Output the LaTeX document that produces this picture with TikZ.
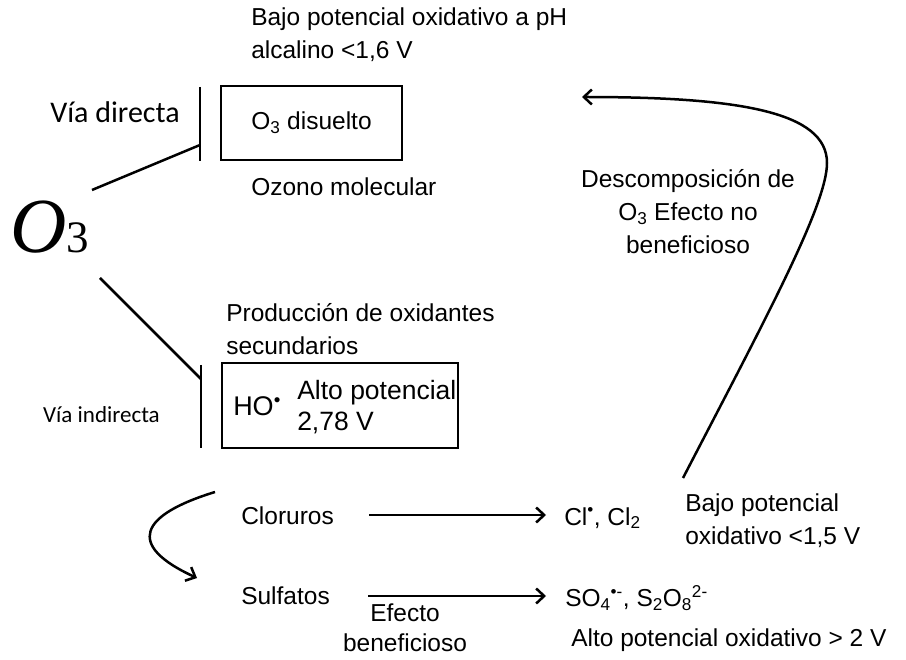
\documentclass[tikz,border=0pt]{standalone}
\usepackage{fontspec}
\setmainfont{Liberation Sans}
\newfontfamily\calfont{Carlito}
\newfontfamily\timesfont{Liberation Serif}
\usetikzlibrary{arrows.meta}

\begin{document}
\begin{tikzpicture}[x=1pt, y=-1pt, line width=2.5pt,
  every node/.style={inner sep=0pt, font=\fontsize{24.5}{33}\selectfont},
  lbl/.style={anchor=west, align=left},
  frame/.style={draw, line width=2.5pt},
  tip/.style={-{Straight Barb[length=8pt, width=15pt, line width=2.5pt]}}]
  \useasboundingbox (0,0) rectangle (906,660);
  % ozone and the two routes
  \node (O) at (50,227) {\timesfont\fontsize{78}{78}\selectfont\itshape O\upshape\fontsize{45}{45}\selectfont 3};
  \node[anchor=east, font=\calfont\fontsize{30}{30}\selectfont] (VD) at (181,112) {Vía directa};
  \node[anchor=east, font=\calfont\fontsize{23}{23}\selectfont] (VI) at (161,415) {Vía indirecta};
  \coordinate (Oa) at (92,190);  \coordinate (Ob) at (100,278);
  \coordinate (D1) at (200,87);  \coordinate (D2) at (200,161);  \coordinate (Dm) at (200,145);
  \coordinate (I1) at (201,365); \coordinate (I2) at (201,448); \coordinate (Im) at (201,379);
  \draw (D1) -- (D2);  \draw (Oa) -- (Dm);
  \draw (I1) -- (I2);  \draw (Ob) -- (Im);
  % direct route
  \node[frame, minimum width=181pt, minimum height=74pt] (DB) at (311.5,123) {};
  \node (DT) at (DB) {O\textsubscript{3} disuelto};
  \node[lbl] (BP) at (250,35) {Bajo potencial oxidativo a pH\\alcalino <1,6 V};
  \node[lbl] (OM) at (250,187) {Ozono molecular};
  % indirect route
  \node[lbl] (PO) at (225,329) {Producción de oxidantes\\secundarios};
  \node[frame, minimum width=236pt, minimum height=85pt] (IB) at (340,405.5) {};
  \node[anchor=west, font=\fontsize{27}{27}\selectfont] (HO) at (232,406) {HO\textsuperscript{•}};
  \node[lbl, font=\fontsize{26.5}{31}\selectfont] (AP) at (296,407) {Alto potencial\\2,78 V};
  % chlorides and sulfates
  \coordinate (Ca) at (215,492);
  \node[lbl] (Cl) at (240,516) {Cloruros};
  \node[lbl] (Su) at (240,596) {Sulfatos};
  \coordinate (Cs) at (197,578);
  \draw[tip] (Ca) .. controls (140,515) and (125,545) .. (Cs);
  \node[lbl] (ClR) at (563,518) {Cl\textsuperscript{•}, Cl\textsubscript{2}};
  \node[lbl] (SuR) at (564,598) {SO\textsubscript{4}\textsuperscript{•-}, S\textsubscript{2}O\textsubscript{8}\textsuperscript{2-}};
  \coordinate (ClA) at (369,515); \coordinate (ClB) at (546,515);
  \coordinate (SuA) at (368,596); \coordinate (SuB) at (546,596);
  \draw[tip] (ClA) -- (ClB);
  \draw[tip] (SuA) -- (SuB);
  \node[align=center, font=\fontsize{24.5}{30}\selectfont] (EB) at (405,628) {Efecto\\beneficioso};
  \node[lbl] (BL) at (684,521) {Bajo potencial\\oxidativo <1,5 V};
  \node[lbl] (AL) at (570,640) {Alto potencial oxidativo > 2 V};
  % decomposition
  \node[align=center] (DC) at (688,212) {Descomposición de\\O\textsubscript{3} Efecto no\\beneficioso};
  \coordinate (Ra) at (683,478); \coordinate (Rm) at (827,163); \coordinate (Rb) at (582,97);
  \draw[tip] (Ra) .. controls (765,320) and (827,205) .. (Rm)
    .. controls (827,112) and (740,97) .. (Rb);
\end{tikzpicture}
\end{document}
